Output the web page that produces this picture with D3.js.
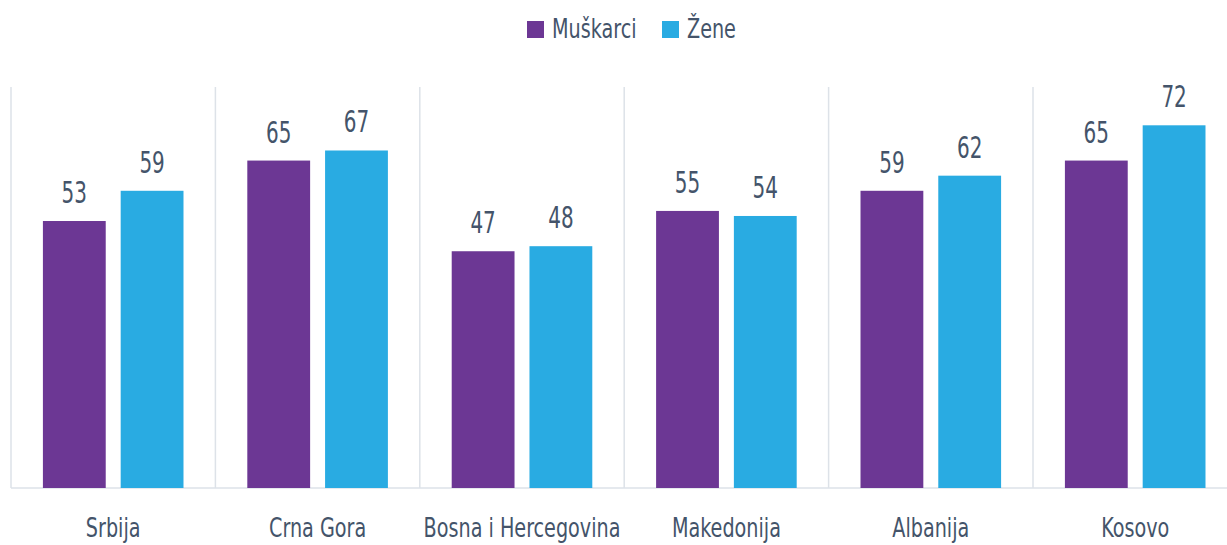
<!DOCTYPE html>
<html>
<head>
<meta charset="utf-8">
<script src="https://cdn.jsdelivr.net/npm/d3@7"></script>
<style>
  body { margin: 0; background: #fff; }
  text { font-family: "Liberation Sans Narrow", "DejaVu Sans Condensed", sans-serif; fill: #44546a; }
</style>
</head>
<body>
<script>
// podaci
const zemlje = ["Srbija", "Crna Gora", "Bosna i Hercegovina", "Makedonija", "Albanija", "Kosovo"];
const muskarci = [53, 65, 47, 55, 59, 65];
const zene = [59, 67, 48, 54, 62, 72];
const serije = ["Muškarci", "Žene"];
const boje = ["#6c3794", "#29abe2"];

const w = 1227, h = 545;
const leftX = 11, bandW = 204.4;
const base = 488, topY = 85;
const sx = 0.79; // suzavanje fonta

const svg = d3.select("body").append("svg")
  .attr("width", w).attr("height", h);

const x0 = d3.scaleBand()
  .domain(zemlje)
  .range([leftX, leftX + bandW * zemlje.length]);

const x1 = d3.scaleBand()
  .domain(serije)
  .range([0, x0.bandwidth()])
  .paddingInner(15 / 78)
  .paddingOuter(32 / 78);

const y = d3.scaleLinear().domain([0, 80]).range([base, topY]);

// separatori
const sep = d3.range(zemlje.length + 1).map(i => leftX + i * bandW);
svg.selectAll("line.sep").data(sep).enter().append("line")
  .attr("class", "sep")
  .attr("x1", d => d).attr("x2", d => d)
  .attr("y1", 87).attr("y2", base)
  .attr("stroke", "#dde2e8").attr("stroke-width", 1.5);

svg.append("line")
  .attr("x1", leftX).attr("x2", w)
  .attr("y1", base).attr("y2", base)
  .attr("stroke", "#dde2e8").attr("stroke-width", 1.5);

const data = zemlje.map((z, i) => ({ z: z, v: [muskarci[i], zene[i]] }));

const g = svg.selectAll("g.grp").data(data).enter().append("g")
  .attr("transform", d => "translate(" + x0(d.z) + ",0)");

g.selectAll("rect").data(d => d.v.map((v, j) => ({ s: serije[j], v: v, j: j })))
  .enter().append("rect")
  .attr("x", d => x1(d.s))
  .attr("width", x1.bandwidth())
  .attr("y", d => y(d.v))
  .attr("height", d => base - y(d.v))
  .attr("fill", d => boje[d.j]);

g.selectAll("text.val").data(d => d.v.map((v, j) => ({ s: serije[j], v: v })))
  .enter().append("text")
  .attr("class", "val")
  .attr("transform", d => "translate(" + (x1(d.s) + x1.bandwidth() / 2) + "," + (y(d.v) - 18) + ") scale(0.74,1)")
  .attr("text-anchor", "middle")
  .style("font-size", "30px")
  .text(d => d.v);

// kategorije
svg.selectAll("text.cat").data(zemlje).enter().append("text")
  .attr("class", "cat")
  .attr("transform", d => "translate(" + (x0(d) + x0.bandwidth() / 2) + ",537) scale(" + sx + ",1)")
  .attr("text-anchor", "middle")
  .style("font-size", "27px")
  .text(d => d);

// legenda
const leg = svg.append("g");
const legX = [527, 662];
serije.forEach((s, i) => {
  leg.append("rect")
    .attr("x", legX[i]).attr("y", 21)
    .attr("width", 17).attr("height", 17)
    .attr("fill", boje[i]);
  leg.append("text")
    .attr("transform", "translate(" + (legX[i] + 25) + ",38) scale(" + sx + ",1)")
    .style("font-size", "27px")
    .text(s);
});
</script>
</body>
</html>
